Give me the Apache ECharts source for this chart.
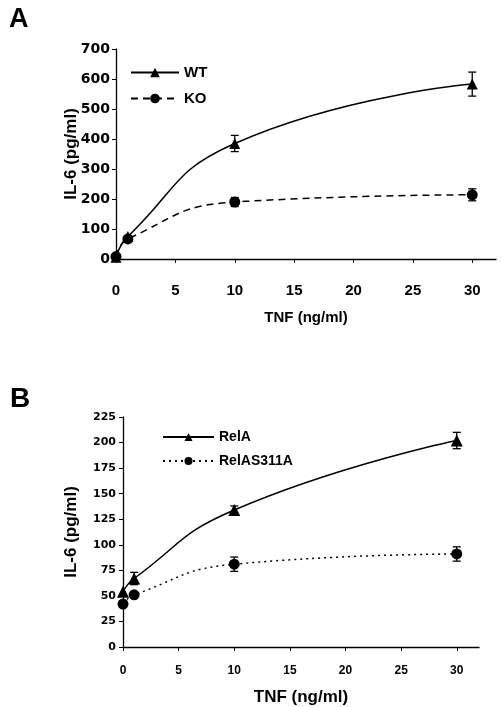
<!DOCTYPE html>
<html><head><meta charset="utf-8">
<script src="https://cdn.jsdelivr.net/npm/echarts@6/dist/echarts.min.js"></script>
<style>html,body{margin:0;padding:0;background:#fff}#c{width:502px;height:707px}</style>
</head><body><div id="c"></div>
<script>
// Panel A
const xA = [0, 1, 10, 30];
const wtVals = [6, 75, 385, 583];
const wtErr = [0, 0, 27, 40];
const koVals = [8, 67, 190, 214];
const koErr = [0, 0, 15, 20];
const yTicksA = [0, 100, 200, 300, 400, 500, 600, 700];
// Panel B
const xB = [0, 1, 10, 30];
const relaVals = [54, 67, 134, 202];
const relaErr = [0, 6, 4, 8];
const s311Vals = [42, 51, 81, 91];
const s311Err = [0, 0, 7, 7];
const yTicksB = [0, 25, 50, 75, 100, 125, 150, 175, 200, 225];
const xTicks = [0, 5, 10, 15, 20, 25, 30];

const chart = echarts.init(document.getElementById('c'), null, {renderer: 'canvas'});

function pairs(xs, ys) { return xs.map((x, i) => [x, ys[i]]); }
function errData(xs, ys, es) { return xs.map((x, i) => [x, ys[i], es[i]]).filter(d => d[2] > 0); }
function errRender(cap) {
  return function (params, api) {
    const x = api.value(0), y = api.value(1), e = api.value(2);
    const top = api.coord([x, y + e]);
    const bot = api.coord([x, y - e]);
    const st = {stroke: '#000', lineWidth: 1.3};
    return {type: 'group', children: [
      {type: 'line', shape: {x1: top[0], y1: top[1], x2: bot[0], y2: bot[1]}, style: st},
      {type: 'line', shape: {x1: top[0] - cap, y1: top[1], x2: top[0] + cap, y2: top[1]}, style: st},
      {type: 'line', shape: {x1: bot[0] - cap, y1: bot[1], x2: bot[0] + cap, y2: bot[1]}, style: st}
    ]};
  };
}

const boldTick = (size) => ({fontFamily: 'DejaVu Sans', fontWeight: 'bold', fontSize: size, color: '#000'});
const axisLineS = {show: true, lineStyle: {color: '#000', width: 1.3}};

const option = {
  animation: false,
  backgroundColor: '#fff',
  title: [
    {text: 'A', left: 4, top: 1, textStyle: {fontFamily: 'Liberation Sans', fontWeight: 'bold', fontSize: 27, color: '#000'}},
    {text: 'B', left: 5, top: 380, textStyle: {fontFamily: 'Liberation Sans', fontWeight: 'bold', fontSize: 28, color: '#000'}}
  ],
  legend: [
    {data: ['WT', 'KO'], orient: 'vertical', left: 125, top: 60, itemWidth: 48, itemHeight: 12, itemGap: 11,
     textStyle: {fontFamily: 'Liberation Sans', fontWeight: 'bold', fontSize: 15, color: '#000'}},
    {data: ['RelA', 'RelAS311A'], orient: 'vertical', left: 157, top: 425, itemWidth: 51, itemHeight: 10, itemGap: 10,
     textStyle: {fontFamily: 'Liberation Sans', fontWeight: 'bold', fontSize: 14, color: '#000'}}
  ],
  grid: [
    {left: 116, top: 49, right: 6, height: 210},
    {left: 123, top: 417, right: 23, height: 232}
  ],
  xAxis: [
    {type: 'value', gridIndex: 0, min: 0, max: 32, interval: 5,
     name: 'TNF (ng/ml)', nameLocation: 'middle', nameGap: 51, nameMoveOverlap: false,
     nameTextStyle: {fontFamily: 'Liberation Sans', fontWeight: 'bold', fontSize: 15, color: '#000'},
     axisLine: axisLineS, splitLine: {show: false},
     axisTick: {show: true, inside: false, length: 4, customValues: xTicks, lineStyle: {color: '#000'}},
     axisLabel: Object.assign({margin: 24, customValues: xTicks}, boldTick(15), {fontFamily: 'Liberation Sans'})},
    {type: 'value', gridIndex: 1, min: 0, max: 32, interval: 5,
     name: 'TNF (ng/ml)', nameLocation: 'middle', nameGap: 42, nameMoveOverlap: false,
     nameTextStyle: {fontFamily: 'Liberation Sans', fontWeight: 'bold', fontSize: 17, color: '#000'},
     axisLine: axisLineS, splitLine: {show: false},
     axisTick: {show: true, inside: false, length: 4, customValues: xTicks, lineStyle: {color: '#000'}},
     axisLabel: Object.assign({margin: 18, customValues: xTicks}, boldTick(12), {fontFamily: 'Liberation Sans'})}
  ],
  yAxis: [
    {type: 'value', gridIndex: 0, min: 0, max: 700, interval: 100,
     name: 'IL-6 (pg/ml)', nameLocation: 'middle', nameGap: 36, nameMoveOverlap: false,
     nameTextStyle: {fontFamily: 'Liberation Sans', fontWeight: 'bold', fontSize: 17, color: '#000'},
     axisLine: axisLineS, splitLine: {show: false},
     axisTick: {show: true, length: 4, lineStyle: {color: '#000'}},
     axisLabel: Object.assign({margin: 6, customValues: yTicksA}, boldTick(14))},
    {type: 'value', gridIndex: 1, min: 0, max: 225, interval: 25,
     name: 'IL-6 (pg/ml)', nameLocation: 'middle', nameGap: 43, nameMoveOverlap: false,
     nameTextStyle: {fontFamily: 'Liberation Sans', fontWeight: 'bold', fontSize: 17, color: '#000'},
     axisLine: axisLineS, splitLine: {show: false},
     axisTick: {show: true, length: 4, lineStyle: {color: '#000'}},
     axisLabel: Object.assign({margin: 7, customValues: yTicksB}, boldTick(11))}
  ],
  series: [
    {name: 'WT', type: 'line', xAxisIndex: 0, yAxisIndex: 0, data: pairs(xA, wtVals), smooth: 0.5,
     symbol: 'triangle', symbolSize: 11, itemStyle: {color: '#000'}, lineStyle: {color: '#000', width: 1.5, type: 'solid'}, z: 3},
    {name: 'KO', type: 'line', xAxisIndex: 0, yAxisIndex: 0, data: pairs(xA, koVals), smooth: 0.5,
     symbol: 'circle', symbolSize: 11, itemStyle: {color: '#000'}, lineStyle: {color: '#000', width: 1.5, type: [7, 5]}, z: 3},
    {type: 'custom', xAxisIndex: 0, yAxisIndex: 0, data: errData(xA, wtVals, wtErr), renderItem: errRender(4), z: 2},
    {type: 'custom', xAxisIndex: 0, yAxisIndex: 0, data: errData(xA, koVals, koErr), renderItem: errRender(4), z: 2},
    {name: 'RelA', type: 'line', xAxisIndex: 1, yAxisIndex: 1, data: pairs(xB, relaVals), smooth: 0.5,
     symbol: 'triangle', symbolSize: 12, itemStyle: {color: '#000'}, lineStyle: {color: '#000', width: 1.5, type: 'solid'}, z: 3},
    {name: 'RelAS311A', type: 'line', xAxisIndex: 1, yAxisIndex: 1, data: pairs(xB, s311Vals), smooth: 0.5,
     symbol: 'circle', symbolSize: 11, itemStyle: {color: '#000'}, lineStyle: {color: '#000', width: 1.5, type: [2, 4]}, z: 3},
    {type: 'custom', xAxisIndex: 1, yAxisIndex: 1, data: errData(xB, relaVals, relaErr), renderItem: errRender(4), z: 2},
    {type: 'custom', xAxisIndex: 1, yAxisIndex: 1, data: errData(xB, s311Vals, s311Err), renderItem: errRender(4), z: 2}
  ]
};
chart.setOption(option);
</script>
</body></html>
